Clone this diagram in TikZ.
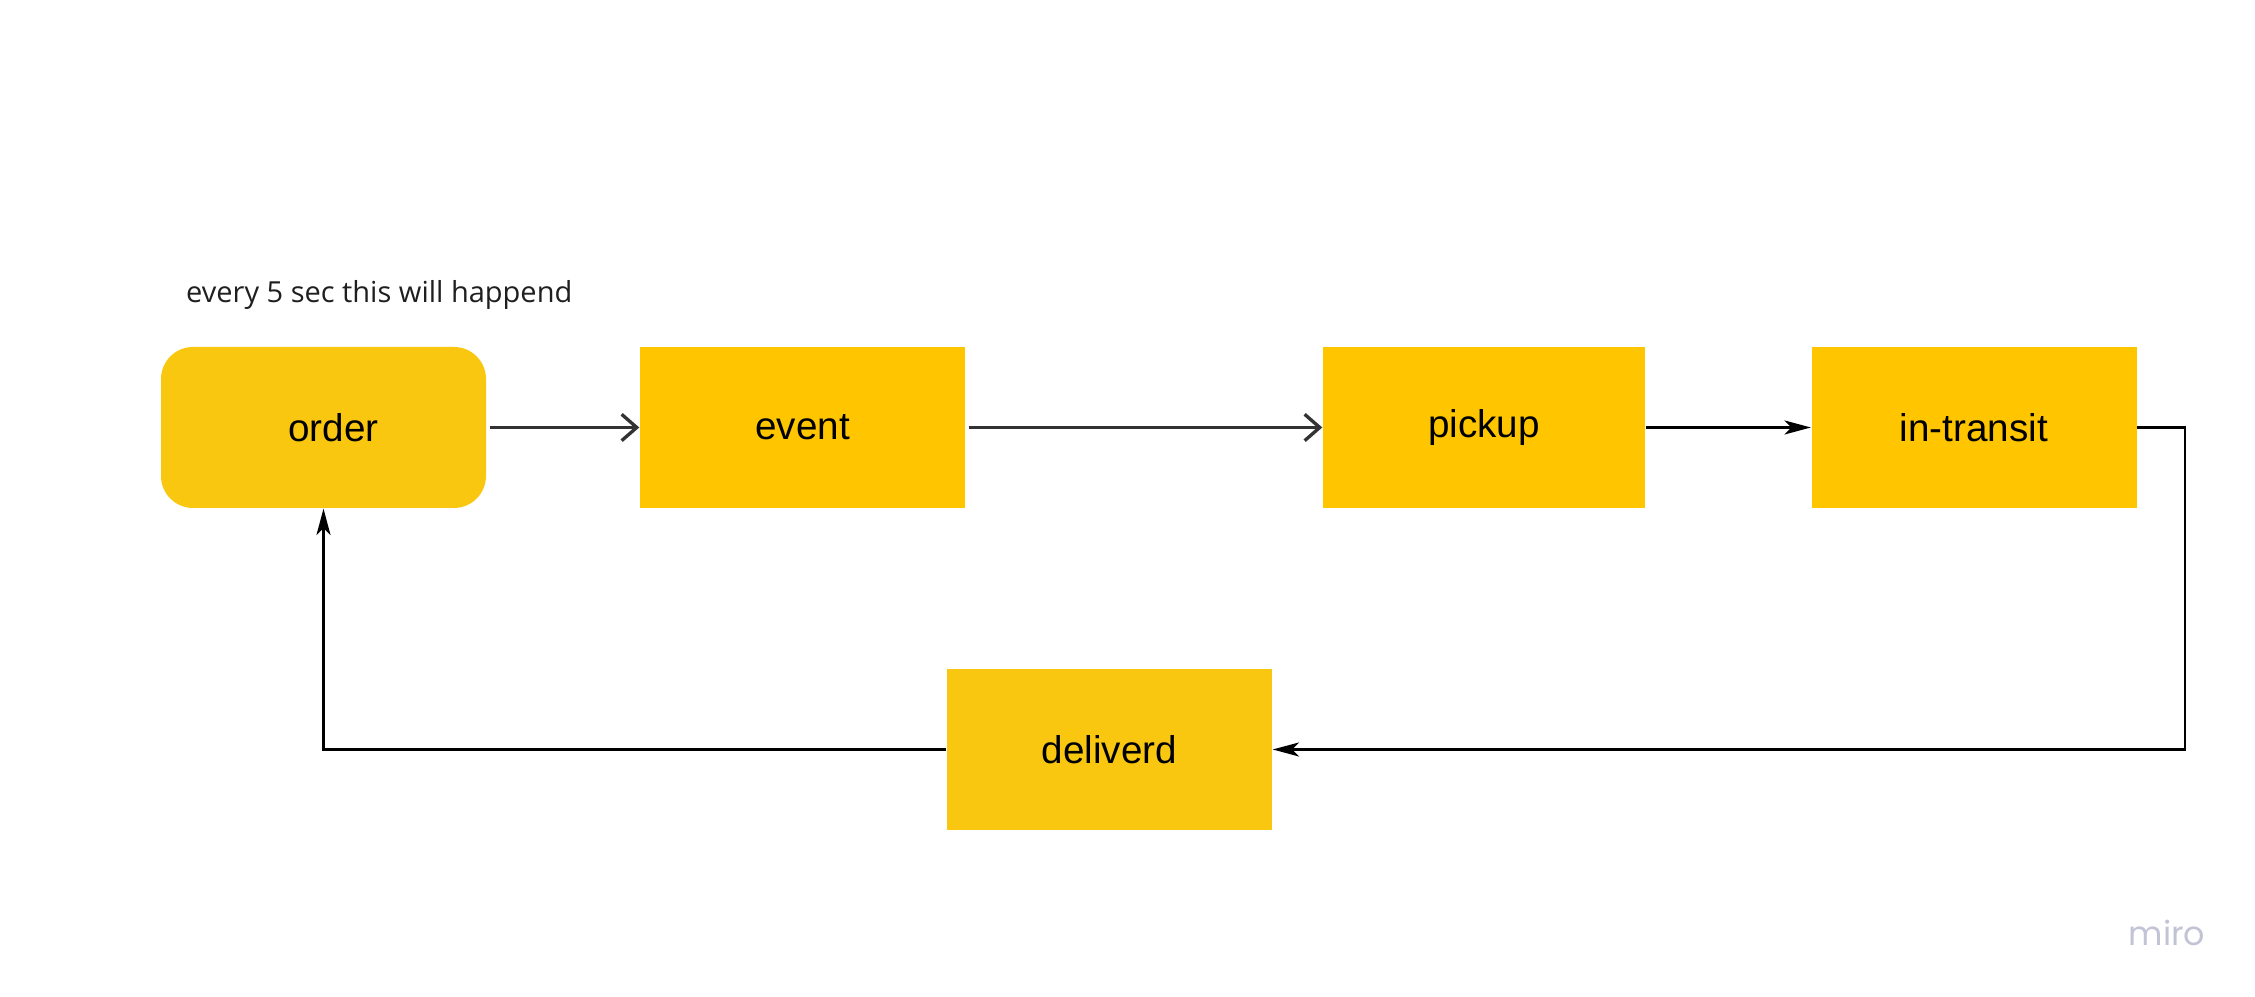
\documentclass[tikz,border=0pt]{standalone}
\usepackage{fontspec}
\setmainfont{Liberation Sans}
\newfontfamily\notefont{Open Sans}
\newfontfamily\logofont{Poppins}
\usetikzlibrary{arrows.meta}
\definecolor{miroyel}{HTML}{FAC710}
\definecolor{boxyel}{HTML}{FFC600}
\definecolor{linegray}{HTML}{333333}
\definecolor{notegray}{HTML}{1F1F1F}
\definecolor{logogray}{HTML}{C2C4D6}

\begin{document}
\begin{tikzpicture}[
  stage/.style={fill=boxyel, minimum width=3.25cm, minimum height=1.61cm, inner sep=0pt, font=\fontsize{11}{13}\selectfont},
  open arrow/.style={draw=linegray, line width=0.95pt, -{Straight Barb[length=4.3pt,width=7.5pt]}},
  solid arrow/.style={line width=0.6pt, -{Stealth[length=7.5pt,width=4pt,inset=2pt]}}
]
\useasboundingbox (0,0) rectangle (22.55,9.97);
%note
\node (note) at (1.855,7.02) [anchor=west, inner sep=0pt, text=notegray, font=\notefont\fontsize{8.25}{10}\selectfont] {every 5 sec this will happend};

%stages
\node (order) at (3.235,5.695) [stage, fill=miroyel, rounded corners=0.32cm] {\hspace*{0.2cm}order};
\node (event) at (8.025,5.695) [stage] {event};
\node (pickup) at (14.84,5.695) [stage, minimum width=3.22cm] {pickup};
\node (transit) at (19.74,5.695) [stage] {in-transit};
\node (deliverd) at (11.095,2.475) [stage, fill=miroyel] {deliverd};

%arrows
\draw[open arrow] (order.east) ++(0.03,0) -- (event.west);
\draw[open arrow] (event.east) ++(0.03,0) -- (pickup.west);
\draw[solid arrow] (pickup.east) -- (transit.west);
\draw[solid arrow] (transit.east) -- ++(0.48,0) |- (deliverd.east);
\draw[solid arrow] (deliverd.west) -| (order.south);

\node (logo) at (21.67,0.64) [text=logogray, font=\logofont\fontsize{9.5}{11}\selectfont] {miro};
\end{tikzpicture}
\end{document}
